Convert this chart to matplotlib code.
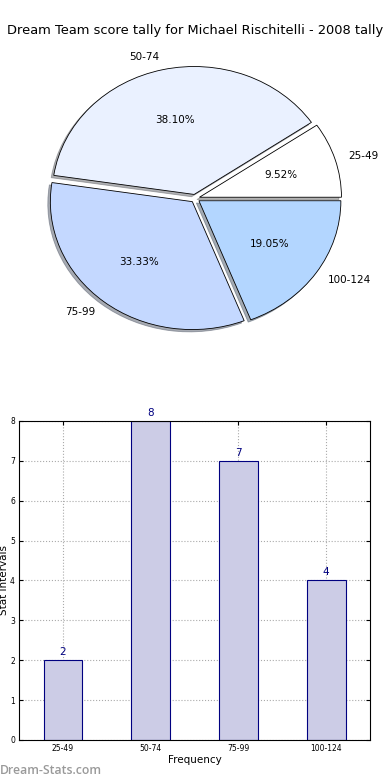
import matplotlib
matplotlib.use("Agg")
import matplotlib.pyplot as plt
import numpy as np

categories = ["25-49", "50-74", "75-99", "100-124"]
counts = [2, 8, 7, 4]
pie_colors = ["#ffffff", "#eaf1ff", "#c4d8ff", "#b3d6ff"]
title = "Dream Team score tally for Michael Rischitelli - 2008 tally"

fig = plt.figure(figsize=(3.9, 7.8), dpi=100)

# Pie
ax1 = fig.add_axes([0.0454, 0.5406, 0.910, 0.410])
wedges, texts, autotexts = ax1.pie(
    counts, labels=categories, colors=pie_colors, autopct="%1.2f%%",
    explode=[0.032] * len(counts), shadow={"ox": -0.013, "oy": -0.013, "shade": 0.6},
    startangle=0,
    wedgeprops=dict(edgecolor="black", linewidth=0.6),
    textprops=dict(fontsize=7.5))
ax1.set_aspect("auto")
ax1.set_xlim(-1.25, 1.25)
ax1.set_ylim(-1.25, 1.25)
ax1.set_axis_off()
fig.text(0.5, 0.961, title, ha="center", va="center", fontsize=9.35)

# Bars
ax2 = fig.add_axes([0.049, 0.0513, 0.900, 0.409])
x = np.arange(len(categories))
bars = ax2.bar(x, counts, width=0.44, color="#ccccE6", edgecolor="#000080", linewidth=0.8, zorder=2)
for xi, v in zip(x, counts):
    ax2.text(xi, v + 0.08, str(v), ha="center", va="bottom", color="#000080", fontsize=7.5)
ax2.set_xlim(-0.5, 3.5)
ax2.set_ylim(0, 8)
ax2.set_xticks(x)
ax2.set_xticklabels(categories)
ax2.set_yticks(range(0, 9))
ax2.tick_params(labelsize=5.5, direction="in", top=True, right=True, length=3, pad=3)
ax2.grid(True, linestyle=":", color="#aaaaaa", linewidth=0.8, zorder=0)
ax2.set_axisbelow(True)
ax2.set_xlabel("Frequency", fontsize=7.5, labelpad=1)
ax2.set_ylabel("Stat Intervals", fontsize=7.5, labelpad=1)
for s in ax2.spines.values():
    s.set_linewidth(0.8)

fig.text(0.0, 0.012, "Dream-Stats.com", fontsize=8.8, color="#9a9a9a", fontweight="semibold",
         family=["Open Sans", "DejaVu Sans"], ha="left", va="center")

fig.savefig("out.png", dpi=100)
